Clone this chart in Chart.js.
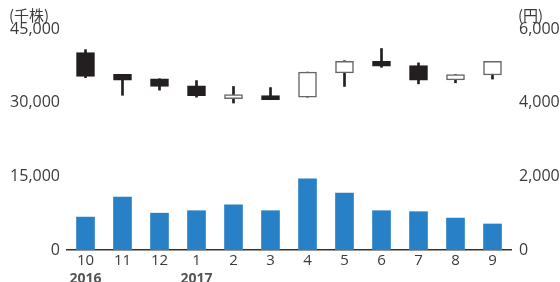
<!DOCTYPE html>
<html>
<head>
<meta charset="utf-8">
<script src="https://cdn.jsdelivr.net/npm/chart.js@4"></script>
<style>
  body { margin: 0; overflow: hidden; background: #fff; }
  #wrap { width: 560px; height: 292px; }
</style>
</head>
<body>
<div id="wrap"><canvas id="myChart"></canvas></div>
<script>
const months = ['10', '11', '12', '1', '2', '3', '4', '5', '6', '7', '8', '9'];
const years = ['2016', '', '', '2017', '', '', '', '', '', '', '', ''];

// 出来高 (千株)
const volume = [6700, 10800, 7500, 8000, 9200, 8000, 14500, 11600, 8000, 7800, 6500, 5300];

// 株価 (円)
const open  = [5360, 4770, 4650, 4460, 4110, 4190, 4150, 4810, 5120, 5010, 4620, 4750];
const high  = [5440, 4770, 4650, 4600, 4440, 4410, 4830, 5140, 5470, 5080, 4760, 5120];
const low   = [4680, 4200, 4340, 4150, 3990, 4080, 4150, 4440, 4960, 4510, 4540, 4640];
const close = [4710, 4610, 4440, 4190, 4220, 4080, 4830, 5120, 4990, 4610, 4760, 5120];

const volTicks = [0, 15000, 30000, 45000];
const priceTicks = [0, 2000, 4000, 6000];

const dark = '#231f20';
const textColor = '#3b3b3b';

Chart.defaults.font.family = '"Open Sans", "Noto Sans CJK JP", sans-serif';
Chart.defaults.color = textColor;

const rising = open.map((o, i) => close[i] >= o);

const unitLabels = {
    id: 'unitLabels',
    afterDraw(chart) {
        const c = chart.ctx;
        c.save();
        c.font = '15px "Noto Sans CJK JP", sans-serif';
        c.fillStyle = textColor;
        c.textBaseline = 'middle';
        c.textAlign = 'left';
        c.fillText('(千株)', 9, 15);
        c.fillText('(円)', chart.scales.y1.left + 7, 15);
        c.restore();
    }
};

const ctx = document.getElementById('myChart').getContext('2d');

new Chart(ctx, {
    type: 'bar',
    data: {
        labels: months,
        datasets: [
            {
                data: volume,
                yAxisID: 'y',
                backgroundColor: '#2881c6',
                barThickness: 18,
                grouped: false,
                order: 3
            },
            {
                data: low.map((l, i) => [l, high[i]]),
                yAxisID: 'y1',
                backgroundColor: dark,
                barThickness: 2,
                grouped: false,
                order: 2
            },
            {
                data: open.map((o, i) => [o, close[i]]),
                yAxisID: 'y1',
                backgroundColor: rising.map(r => r ? '#ffffff' : dark),
                borderColor: rising.map(r => r ? '#666666' : dark),
                borderWidth: 1.5,
                borderSkipped: false,
                barThickness: 18,
                grouped: false,
                order: 1
            }
        ]
    },
    options: {
        responsive: true,
        maintainAspectRatio: false,
        animation: false,
        layout: {
            padding: { top: 29, left: 0, right: 0, bottom: 0 }
        },
        scales: {
            x: {
                grid: { display: false, drawTicks: false },
                border: { display: true, color: '#333', width: 1.5 },
                ticks: {
                    font: { size: 15 },
                    color: textColor,
                    padding: 2,
                    autoSkip: false,
                    maxRotation: 0
                },
                afterFit: s => { s.height = 20; }
            },
            x2: {
                type: 'category',
                labels: years,
                position: 'bottom',
                offset: true,
                grid: { display: false, drawTicks: false },
                border: { display: false },
                ticks: {
                    font: { size: 14, weight: 'bold' },
                    color: '#555',
                    padding: 1,
                    autoSkip: false,
                    maxRotation: 0
                },
                afterFit: s => { s.height = 22; }
            },
            y: {
                position: 'left',
                min: 0,
                max: 45000,
                grid: { display: false, drawTicks: false },
                border: { display: false },
                afterBuildTicks: s => { s.ticks = volTicks.map(v => ({ value: v })); },
                ticks: {
                    font: { size: 16 },
                    color: textColor,
                    padding: 7,
                    callback: v => v.toLocaleString('en-US')
                },
                afterFit: s => { s.width = 67; }
            },
            y1: {
                position: 'right',
                min: 0,
                max: 6000,
                grid: { display: false, drawTicks: false },
                border: { display: false },
                afterBuildTicks: s => { s.ticks = priceTicks.map(v => ({ value: v })); },
                ticks: {
                    font: { size: 16 },
                    color: textColor,
                    padding: 8,
                    callback: v => v.toLocaleString('en-US')
                },
                afterFit: s => { s.width = 49; }
            }
        },
        plugins: {
            legend: { display: false },
            tooltip: { enabled: false }
        }
    },
    plugins: [unitLabels]
});
</script>
</body>
</html>
